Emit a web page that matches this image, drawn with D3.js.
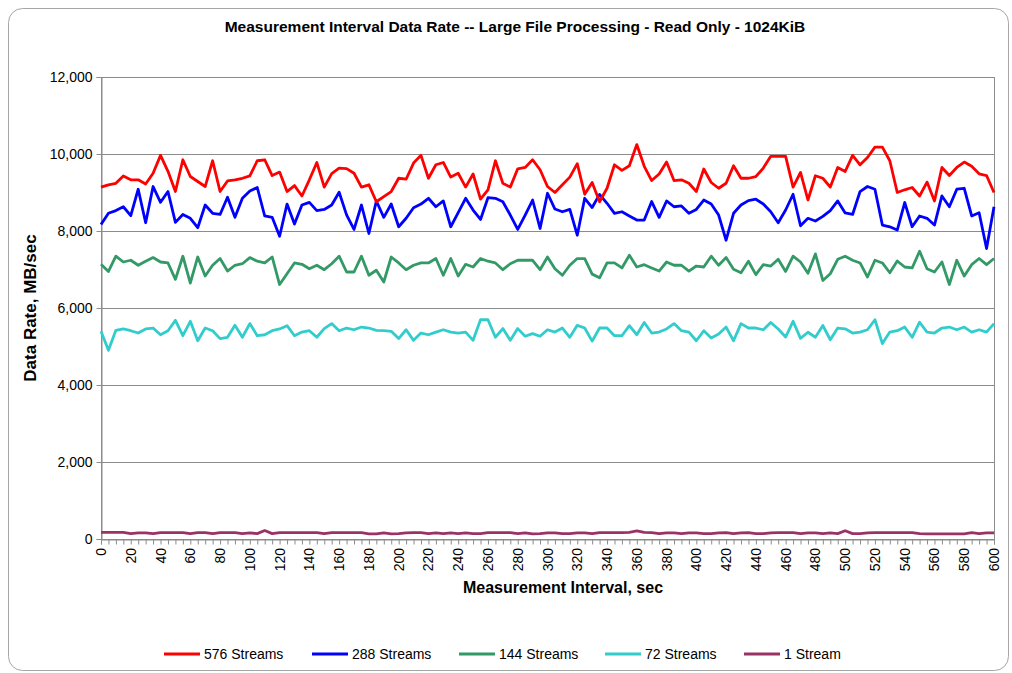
<!DOCTYPE html>
<html>
<head>
<meta charset="utf-8">
<script src="https://cdn.jsdelivr.net/npm/d3@7"></script>
<style>
  body { margin: 0; background: #fff; }
  text { font-family: "Liberation Sans", Arial, sans-serif; }
</style>
</head>
<body>
<div id="chart"></div>
<script>
// measurement intervals, every 5 sec
var seconds = d3.range(0, 601, 5);
var xTickLabels = d3.range(0, 601, 20);
var yTickLabels = [0, 2000, 4000, 6000, 8000, 10000, 12000];

var seriesNames = ["576 Streams", "288 Streams", "144 Streams", "72 Streams", "1 Stream"];
var seriesColors = ["#ff0000", "#0000ff", "#339966", "#33cccc", "#993366"];

var streams576 = [9140,9200,9240,9430,9330,9330,9220,9500,9965,9550,
  9025,9850,9415,9285,9155,9825,9025,9300,9330,9370,
  9430,9825,9850,9440,9530,9025,9180,8910,9330,9780,
  9140,9490,9635,9620,9500,9140,9200,8760,8895,9025,
  9370,9345,9765,9965,9370,9720,9780,9400,9500,9140,
  9480,8830,9070,9825,9240,9140,9615,9650,9850,9590,
  9155,9000,9200,9400,9750,8955,9260,8760,9110,9720,
  9575,9695,10245,9680,9310,9480,9790,9310,9330,9240,
  9025,9610,9260,9110,9240,9695,9370,9370,9415,9635,
  9940,9940,9940,9140,9520,8805,9435,9370,9140,9650,
  9545,9965,9720,9910,10180,10180,9825,9000,9070,9130,
  8910,9270,8780,9650,9440,9650,9790,9680,9485,9440,9000];

var streams288 = [8170,8460,8530,8630,8400,9085,8215,9155,8745,9025,
  8225,8430,8330,8085,8675,8460,8430,8875,8355,8850,
  9040,9130,8390,8355,7865,8700,8180,8675,8745,8530,
  8560,8675,9005,8420,8040,8675,7935,8780,8355,8700,
  8110,8330,8605,8700,8850,8630,8780,8110,8475,8850,
  8545,8300,8865,8850,8760,8415,8040,8415,8805,8065,
  8980,8570,8500,8560,7890,8850,8610,8950,8720,8460,
  8500,8390,8285,8285,8765,8355,8780,8630,8650,8460,
  8560,8805,8700,8415,7760,8460,8675,8790,8825,8700,
  8500,8215,8545,8955,8135,8330,8260,8380,8530,8780,
  8470,8430,9025,9155,9085,8155,8110,8025,8740,8110,
  8390,8330,8155,8910,8630,9085,9110,8390,8475,7545,8630];

var streams144 = [7135,6950,7345,7195,7240,7110,7215,7310,7195,7170,
  6745,7345,6645,7325,6830,7110,7285,6960,7110,7150,
  7310,7215,7170,7325,6610,6890,7170,7135,7020,7110,
  6995,7150,7345,6935,6935,7345,6850,6980,6675,7325,
  7170,6995,7110,7170,7170,7285,6850,7285,6830,7135,
  7065,7285,7215,7170,6995,7150,7240,7240,7240,6995,
  7325,7020,6850,7110,7285,7285,6880,6785,7170,7170,
  7040,7370,7065,7125,7040,6960,7195,7110,7110,6960,
  7090,7065,7345,7110,7310,7005,6915,7215,6865,7125,
  7090,7265,6950,7345,7195,6900,7405,6715,6890,7265,
  7345,7240,7170,6805,7240,7170,6915,7220,7065,7040,
  7475,7020,6935,7195,6610,7240,6830,7125,7285,7125,7285];

var streams72 = [5395,4900,5420,5455,5410,5350,5455,5480,5305,5410,
  5680,5280,5655,5150,5480,5410,5205,5240,5550,5240,
  5595,5280,5305,5410,5455,5540,5280,5375,5410,5240,
  5465,5595,5410,5480,5435,5505,5480,5420,5410,5395,
  5205,5435,5160,5350,5305,5375,5435,5375,5350,5375,
  5160,5695,5695,5240,5465,5160,5465,5265,5335,5265,
  5435,5375,5480,5240,5550,5480,5140,5480,5480,5280,
  5280,5540,5305,5625,5350,5375,5455,5595,5410,5375,
  5150,5410,5220,5325,5505,5150,5595,5480,5480,5435,
  5625,5455,5245,5655,5210,5370,5240,5545,5175,5480,
  5460,5350,5375,5435,5695,5075,5375,5410,5505,5240,
  5630,5375,5350,5480,5505,5435,5505,5375,5435,5375,5595];

var stream1 = [170,170,170,170,140,160,160,140,165,165,
  165,165,140,165,165,140,165,165,165,140,
  160,140,220,140,165,165,165,165,165,165,
  140,165,165,165,165,165,135,135,160,135,
  140,160,165,165,140,160,140,160,140,160,
  140,140,165,165,165,165,140,160,135,140,
  160,160,140,140,160,160,140,165,165,165,
  165,170,210,170,165,140,160,160,140,160,
  160,140,140,160,165,140,160,165,140,140,
  160,165,165,165,140,160,160,140,160,140,
  215,140,140,160,165,165,165,165,165,165,
  140,135,135,135,135,135,135,165,140,160,160];

var allSeries = [streams576, streams288, streams144, streams72, stream1];

var width = 1012, height = 673;
var margin = { top: 77, right: 18, bottom: 134, left: 101 };
var plotW = width - margin.left - margin.right;
var plotH = height - margin.top - margin.bottom;

var svg = d3.select("#chart").append("svg")
  .attr("width", width)
  .attr("height", height);

// outer chart frame
svg.append("rect")
  .attr("x", 8.5).attr("y", 8.5)
  .attr("width", 1000).attr("height", 662)
  .attr("rx", 14)
  .attr("fill", "#fff")
  .attr("stroke", "#a6a6a6")
  .attr("stroke-width", 1);

svg.append("text")
  .attr("x", 515).attr("y", 32)
  .attr("text-anchor", "middle")
  .style("font-size", "15.5px")
  .style("font-weight", "bold")
  .text("Measurement Interval Data Rate -- Large File Processing - Read Only - 1024KiB");

var g = svg.append("g")
  .attr("transform", "translate(" + margin.left + "," + margin.top + ")");

var x = d3.scaleLinear().domain([0, 600]).range([0, plotW]);
var y = d3.scaleLinear().domain([0, 12000]).range([plotH, 0]);

// gridlines
g.selectAll(".grid")
  .data(yTickLabels)
  .enter().append("line")
  .attr("x1", 0).attr("x2", plotW)
  .attr("y1", function (d) { return Math.round(y(d)) + 0.5; })
  .attr("y2", function (d) { return Math.round(y(d)) + 0.5; })
  .attr("stroke", "#8c8c8c")
  .attr("stroke-width", 1);

// plot border
g.append("rect")
  .attr("x", 0.5).attr("y", 0.5)
  .attr("width", plotW).attr("height", plotH)
  .attr("fill", "none")
  .attr("stroke", "#8c8c8c");

// y axis
var yAxis = g.append("g")
  .attr("transform", "translate(0.5,0)")
  .call(d3.axisLeft(y).tickValues(yTickLabels).tickFormat(d3.format(",")).tickSize(5).tickPadding(4));
yAxis.select(".domain").attr("stroke", "#8c8c8c");
yAxis.selectAll(".tick line").attr("stroke", "#8c8c8c");
yAxis.selectAll("text").style("font-size", "14px").attr("fill", "#000")
  .style("font-family", "'Liberation Sans', Arial, sans-serif");

// x axis, tick per interval, label every 20 sec
var xAxis = g.append("g")
  .attr("transform", "translate(0," + (plotH + 0.5) + ")")
  .call(d3.axisBottom(x).tickValues(seconds).tickSize(5).tickFormat(""));
xAxis.select(".domain").attr("stroke", "#8c8c8c");
xAxis.selectAll(".tick line").attr("stroke", "#8c8c8c");

g.selectAll(".xlabel")
  .data(xTickLabels)
  .enter().append("text")
  .attr("transform", function (d) { return "translate(" + (x(d) + 5) + "," + (plotH + 9) + ") rotate(-90)"; })
  .attr("text-anchor", "end")
  .style("font-size", "14px")
  .text(function (d) { return d; });

// axis titles
svg.append("text")
  .attr("x", 563).attr("y", 593)
  .attr("text-anchor", "middle")
  .style("font-size", "16px")
  .style("font-weight", "bold")
  .text("Measurement Interval, sec");

svg.append("text")
  .attr("transform", "translate(36," + (margin.top + plotH / 2) + ") rotate(-90)")
  .attr("text-anchor", "middle")
  .style("font-size", "17px")
  .style("font-weight", "bold")
  .text("Data Rate, MB/sec");

// the lines, drawn small series first
var line = d3.line()
  .x(function (d, i) { return x(seconds[i]); })
  .y(function (d) { return y(d); });

for (var k = allSeries.length - 1; k >= 0; k--) {
  g.append("path")
    .datum(allSeries[k])
    .attr("d", line)
    .attr("fill", "none")
    .attr("stroke", seriesColors[k])
    .attr("stroke-width", 2.8)
    .attr("stroke-linejoin", "round");
}

// legend
var legendX = [164, 312, 459, 605, 744];
var legend = svg.selectAll(".legend")
  .data(seriesNames)
  .enter().append("g")
  .attr("transform", function (d, i) { return "translate(" + legendX[i] + ",654)"; });

legend.append("line")
  .attr("x1", 0).attr("x2", 36)
  .attr("y1", 0).attr("y2", 0)
  .attr("stroke", function (d, i) { return seriesColors[i]; })
  .attr("stroke-width", 3);

legend.append("text")
  .attr("x", 40).attr("y", 5)
  .style("font-size", "14px")
  .text(function (d) { return d; });
</script>
</body>
</html>
